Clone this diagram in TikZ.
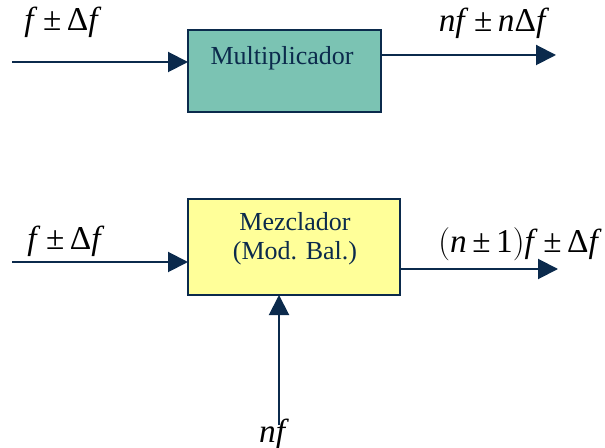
\documentclass[tikz,border=0pt]{standalone}
\usepackage{fontspec}
\setmainfont{Liberation Serif}
\usetikzlibrary{arrows.meta}
\definecolor{navy}{HTML}{0B2A4C}
\definecolor{teal1}{HTML}{7BC3B3}
\definecolor{yel}{HTML}{FFFF99}
\tikzset{
  blk/.style={draw=navy,line width=1.5pt,inner sep=0pt,text=navy,font=\fontsize{19.5}{22}\selectfont,align=center},
  sig/.style={draw=navy,line width=1.5pt,-{Triangle[length=15pt,width=15pt]}},
  lbl/.style={font=\fontsize{25}{27}\selectfont,inner sep=0pt}
}
\begin{document}
\begin{tikzpicture}[x=0.75pt,y=-0.75pt]
\useasboundingbox (0,0) rectangle (605,448);
% top block
\node[blk,fill=teal1,minimum width=193*0.75pt,minimum height=82*0.75pt] (mul) at (284.5,71) {};
\node[blk,draw=none,fill=none] (multxt) at (282,58) {Multiplicador};
\coordinate (in1) at (12,62);
\coordinate (in1e) at (188,62);
\coordinate (out1s) at (381,55);
\coordinate (out1) at (556,55);
\draw[sig] (in1) -- (in1e);
\draw[sig] (out1s) -- (out1);
\node[lbl] (l1) at (63,22) {\textit{f}\,±\,Δ\textit{f}};
\node[lbl] (l2) at (494,23) {\textit{nf}\,±\,\textit{n}Δ\textit{f}};
% bottom block
\node[blk,fill=yel,minimum width=212*0.75pt,minimum height=96*0.75pt] (mez) at (294,247) {};
\node[blk,draw=none,fill=none] (meztxt) at (295,239) {Mezclador\\[0pt](Mod. Bal.)};
\coordinate (in2) at (12,262);
\coordinate (in2e) at (188,262);
\coordinate (out2s) at (400,269);
\coordinate (out2) at (558,269);
\coordinate (nfin) at (279,425);
\coordinate (nfe) at (279,295);
\draw[sig] (in2) -- (in2e);
\draw[sig] (out2s) -- (out2);
\draw[sig] (nfin) -- (nfe);
\node[lbl] (l3) at (66,241) {\textit{f}\,±\,Δ\textit{f}};
\node[lbl] (l4) at (520,244) {$\bigl($\textit{n}\,±\,1$\bigr)$\textit{f}\,±\,Δ\textit{f}};
\node[lbl] (l5) at (274,434) {\textit{nf}};
\end{tikzpicture}
\end{document}
